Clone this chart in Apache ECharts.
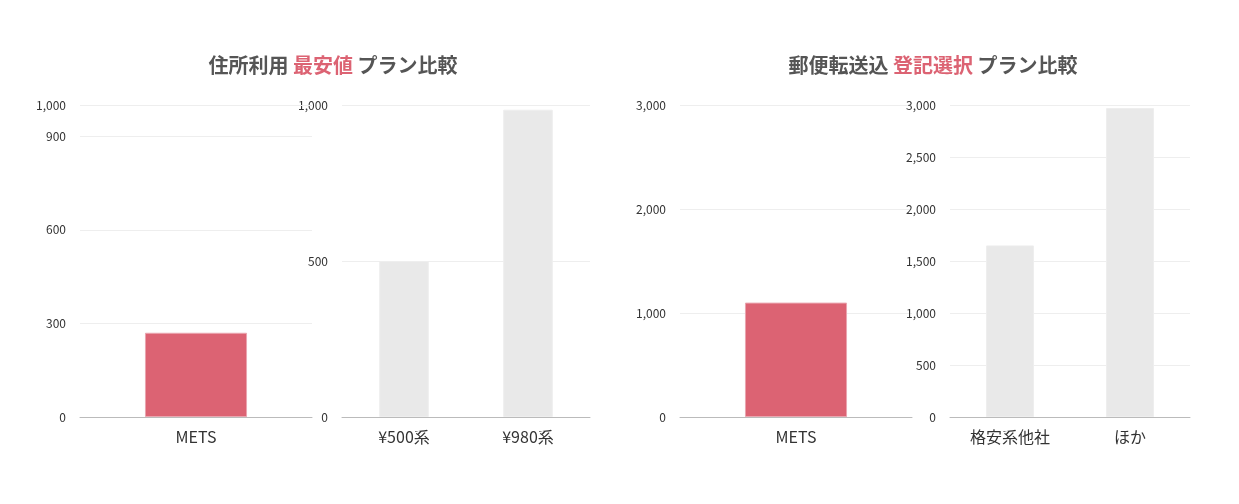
<!DOCTYPE html>
<html><head><meta charset="utf-8">
<script src="https://cdn.jsdelivr.net/npm/echarts@6/dist/echarts.min.js"></script>
<style>html,body{margin:0;background:#fff}#c{width:1239px;height:504px}</style>
</head><body><div id="c"></div>
<script>
const titles = [['住所利用 ', '最安値', ' プラン比較'], ['郵便転送込 ', '登記選択', ' プラン比較']];
const cats1 = ['METS'], vals1 = [270];
const cats2 = ['¥500系', '¥980系'], vals2 = [500, 985];
const cats3 = ['METS'], vals3 = [1100];
const cats4 = ['格安系他社', 'ほか'], vals4 = [1650, 2970];
const ticks1 = [0, 300, 600, 900, 1000];

const RED = '#dc6373', GRAY = '#e9e9e9';
const font = '"Noto Sans CJK JP","Noto Sans",sans-serif';
const grids = [
  {left: 80, width: 232, top: 105, height: 312},
  {left: 342, width: 248, top: 105, height: 312},
  {left: 680, width: 232, top: 105, height: 312},
  {left: 950, width: 240, top: 105, height: 312}
];
const cats = [cats1, cats2, cats3, cats4];
const vals = [vals1, vals2, vals3, vals4];
const yCfg = [
  {max: 1000, custom: ticks1},
  {max: 1000, interval: 500},
  {max: 3000, interval: 1000},
  {max: 3000, interval: 500}
];
const option = {
  animation: false,
  title: titles.map((t, i) => ({
    text: '{a|' + t[0] + '}{b|' + t[1] + '}{a|' + t[2] + '}',
    left: i === 0 ? 328 : 928, top: 50, textAlign: 'center',
    textStyle: {rich: {
      a: {fontSize: 20, color: '#555', fontFamily: font},
      b: {fontSize: 20, color: RED, fontFamily: font}
    }}
  })),
  grid: grids,
  xAxis: cats.map((c, i) => ({
    type: 'category', gridIndex: i, data: c,
    axisLine: {lineStyle: {color: '#bbb'}}, axisTick: {show: false},
    axisLabel: {fontSize: 16, color: '#333', fontFamily: font, margin: 12}
  })),
  yAxis: yCfg.map((y, i) => {
    const o = {
      type: 'value', gridIndex: i, min: 0, max: y.max,
      axisLine: {show: false}, axisTick: {show: false},
      axisLabel: {fontSize: 12, color: '#333', fontFamily: font, margin: 14},
      splitLine: {lineStyle: {color: '#eee'}}
    };
    if (y.custom) {
      o.axisLabel.customValues = y.custom;
      o.axisTick.customValues = y.custom;
      o.interval = 100;
    } else o.interval = y.interval;
    return o;
  }),
  series: vals.map((v, i) => ({
    type: 'bar', xAxisIndex: i, yAxisIndex: i, data: v,
    barWidth: (i % 2 === 0) ? '44%' : '40%',
    itemStyle: {color: (i % 2 === 0) ? RED : GRAY, borderColor: (i % 2 === 0) ? '#eaa6b0' : '#eee', borderWidth: 1}
  }))
};
const ch = echarts.init(document.getElementById('c'));
ch.setOption(option);
// custom split lines for first grid: hide default, draw via markLine from data
option.yAxis[0].splitLine.show = false;
option.series[0].markLine = {silent: true, symbol: 'none', label: {show: false},
  lineStyle: {color: '#eee', type: 'solid', width: 1},
  data: ticks1.filter(t => t > 0).map(t => ({yAxis: t}))};
ch.setOption(option);
</script></body></html>
